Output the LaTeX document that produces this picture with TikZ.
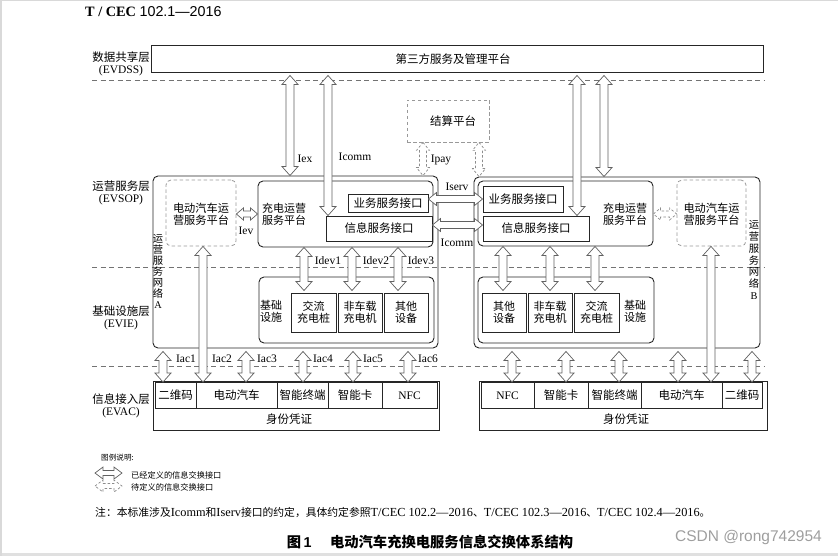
\documentclass[tikz,border=0pt]{standalone}
\usepackage{fontspec}
\setmainfont{Liberation Serif}
\newfontfamily\cjk{Noto Sans CJK SC}
\newfontfamily\sansf{Liberation Sans}
\usetikzlibrary{calc,fit}
\def\dW{8pt}\def\dw{4pt}\def\dh{9pt}
\tikzset{
  box/.style={draw=black!85, line width=0.9pt, inner sep=0pt, align=center,
    font=\cjk\fontsize{11.5}{12.5}\selectfont},
  rbox/.style={box, rounded corners=5pt},
  dbox/.style={draw=black!40, dashed, dash pattern=on 3.5pt off 2.5pt, line width=0.8pt,
    inner sep=0pt, align=center, font=\cjk\fontsize{11.5}{12.5}\selectfont},
  ctxt/.style={inner sep=0pt, font=\cjk\fontsize{11.5}{12.5}\selectfont},
  lay/.style={align=center, inner sep=0pt, font=\fontsize{11.5}{12}\selectfont},
  lbl/.style={inner sep=0pt, font=\fontsize{11.5}{12}\selectfont},
  sepline/.style={draw=black!55, line width=0.7pt, dash pattern=on 5pt off 3.5pt},
  darr/.style={draw=black!62, fill=white, line width=0.7pt,
    to path={
      -- ($(\tikztostart)!\dh!(\tikztotarget)!\dW!90:(\tikztotarget)$)
      -- ($(\tikztostart)!\dh!(\tikztotarget)!\dw!90:(\tikztotarget)$)
      -- ($(\tikztotarget)!\dh!(\tikztostart)!\dw!-90:(\tikztostart)$)
      -- ($(\tikztotarget)!\dh!(\tikztostart)!\dW!-90:(\tikztostart)$)
      -- (\tikztotarget)
      -- ($(\tikztotarget)!\dh!(\tikztostart)!\dW!90:(\tikztostart)$)
      -- ($(\tikztotarget)!\dh!(\tikztostart)!\dw!90:(\tikztostart)$)
      -- ($(\tikztostart)!\dh!(\tikztotarget)!\dw!-90:(\tikztotarget)$)
      -- ($(\tikztostart)!\dh!(\tikztotarget)!\dW!-90:(\tikztotarget)$)
      -- cycle}},
  ddarr/.style={darr, draw=black!45, dash pattern=on 2.5pt off 2pt},
  smallarr/.code={\def\dW{6.5pt}\def\dw{3.5pt}\def\dh{8pt}},
  tinyarr/.code={\def\dW{6pt}\def\dw{3pt}\def\dh{7pt}},
  legarr/.code={\def\dW{6pt}\def\dw{2.5pt}\def\dh{8pt}},
}
\begin{document}
\begin{tikzpicture}[x=1pt,y=-1pt]
\useasboundingbox (0,0) rectangle (838,556);
% frame of the screenshot
\fill[black!12] (0,552.5) rectangle (838,556);
\draw[black!15, line width=1.5pt] (0.75,556) -- (0.75,0.75) -- (838,0.75);

% title
\node[anchor=west, inner sep=0pt, font=\fontsize{14.3}{16}\selectfont] (title) at (85,12)
  {\bfseries T / CEC \sansf\mdseries 102.1—2016};

% layer separators
\coordinate (sl1) at (92,80);  \coordinate (sr1) at (765,80);
\coordinate (sl2) at (92,267); \coordinate (sr2) at (765,267);
\coordinate (sl3) at (92,366); \coordinate (sr3) at (765,366);
\draw[sepline] (sl1) -- (sr1);
\draw[sepline] (sl2) -- (sr2);
\draw[sepline] (sl3) -- (sr3);

% layer labels
\node[lay] (Ldss) at (121,64) {{\cjk 数据共享层}\\(EVDSS)};
\node[lay] (Lsop) at (121,193) {{\cjk 运营服务层}\\(EVSOP)};
\node[lay] (Lie)  at (121,318) {{\cjk 基础设施层}\\(EVIE)};
\node[lay] (Lac)  at (121,406) {{\cjk 信息接入层}\\(EVAC)};

% data sharing layer
\node[box, fit={(151,45) (763,72)}] (dss) {};
\node[ctxt] (dsst) at (453,59) {第三方服务及管理平台};

% settlement platform
\node[dbox, fit={(407,100) (489,142)}] (settle) {};
\node[ctxt] (settlet) at (453,121) {结算平台};

% service network A
\node[rbox, fit={(153,176) (438,348)}] (netA) {};
\node[dbox, rounded corners=5pt, fit={(166,180) (236,246)}] (evA) {};
\node[inner sep=0pt, align=center, font=\cjk\fontsize{11.2}{12}\selectfont] (evAt) at (201,214) {电动汽车运\\营服务平台};
\node[rbox, fit={(258,181) (433,247)}] (cpA) {};
\node[inner sep=0pt, align=left, font=\cjk\fontsize{11}{12}\selectfont] (cpAt) at (284,214) {充电运营\\服务平台};
\node[box, fit={(348,194) (428,212)}] (busA) {};
\node[ctxt] (busAt) at (388,203) {业务服务接口};
\node[box, fit={(326,216) (432,241)}] (infA) {};
\node[ctxt] (infAt) at (379,228.5) {信息服务接口};
\node[inner sep=0pt, align=center, font=\cjk\fontsize{10.3}{11}\selectfont] (vA) at (158,271) {运\\营\\服\\务\\网\\络\\{\rmfamily A}};

\node[rbox, fit={(259,277) (434,343)}] (infraA) {};
\node[inner sep=0pt, align=center, font=\cjk\fontsize{11}{12}\selectfont] (infraAt) at (271,311) {基础\\设施};
\node[box, fit={(291,293) (336,332)}] (acA) {};
\node[inner sep=0pt, align=center, font=\cjk\fontsize{11}{11.5}\selectfont] (acAt) at (313.5,312.5) {交流\\充电桩};
\node[box, fit={(338,293) (382,332)}] (dcA) {};
\node[inner sep=0pt, align=center, font=\cjk\fontsize{11}{11.5}\selectfont] (dcAt) at (360,312.5) {非车载\\充电机};
\node[box, fit={(384,293) (428,332)}] (otA) {};
\node[inner sep=0pt, align=center, font=\cjk\fontsize{11}{11.5}\selectfont] (otAt) at (406,312.5) {其他\\设备};

% service network B
\node[rbox, fit={(474,177) (760,348)}] (netB) {};
\node[rbox, fit={(478,181) (653,246)}] (cpB) {};
\node[inner sep=0pt, align=center, font=\cjk\fontsize{11}{12}\selectfont] (cpBt) at (625,214) {充电运营\\服务平台};
\node[box, fit={(483,186) (563,212)}] (busB) {};
\node[ctxt] (busBt) at (523,199) {业务服务接口};
\node[box, fit={(483,216) (589,241)}] (infB) {};
\node[ctxt] (infBt) at (536,228.5) {信息服务接口};
\node[dbox, rounded corners=5pt, fit={(677,180) (746,246)}] (evB) {};
\node[inner sep=0pt, align=center, font=\cjk\fontsize{11.2}{12}\selectfont] (evBt) at (711.5,214) {电动汽车运\\营服务平台};
\node[inner sep=0pt, align=center, font=\cjk\fontsize{10.3}{11.8}\selectfont] (vB) at (754,260) {运\\营\\服\\务\\网\\络\\{\rmfamily B}};

\node[rbox, fit={(478,277) (654,343)}] (infraB) {};
\node[box, fit={(482,293) (526,332)}] (otB) {};
\node[inner sep=0pt, align=center, font=\cjk\fontsize{11}{11.5}\selectfont] (otBt) at (504,312.5) {其他\\设备};
\node[box, fit={(528,293) (572,332)}] (dcB) {};
\node[inner sep=0pt, align=center, font=\cjk\fontsize{11}{11.5}\selectfont] (dcBt) at (550,312.5) {非车载\\充电机};
\node[box, fit={(574,293) (619,332)}] (acB) {};
\node[inner sep=0pt, align=center, font=\cjk\fontsize{11}{11.5}\selectfont] (acBt) at (596.5,312.5) {交流\\充电桩};
\node[inner sep=0pt, align=center, font=\cjk\fontsize{11}{12}\selectfont] (infraBt) at (635,311) {基础\\设施};

% access layer A
\node[box, line width=0.8pt, fit={(153,381) (439,430)}] (accA) {};
\node[box, fit={(155,382.5) (196,408)}] (qrA) {};
\node[box, fit={(196,382.5) (277,408)}] (evcA) {};
\node[box, fit={(277,382.5) (328,408)}] (tmA) {};
\node[box, fit={(328,382.5) (382,408)}] (cardA) {};
\node[box, fit={(382,382.5) (437,408)}] (nfcA) {};
\node[ctxt] (qrAt) at (175.5,395.5) {二维码};
\node[ctxt] (evcAt) at (236.5,395.5) {电动汽车};
\node[ctxt] (tmAt) at (302.5,395.5) {智能终端};
\node[ctxt] (cardAt) at (355,395.5) {智能卡};
\node[lbl] (nfcAt) at (409.5,395.5) {NFC};
\node[ctxt] (idA) at (289,419) {身份凭证};

% access layer B
\node[box, line width=0.8pt, fit={(479,381) (767,430)}] (accB) {};
\node[box, fit={(481,382.5) (534,408)}] (nfcB) {};
\node[box, fit={(534,382.5) (588,408)}] (cardB) {};
\node[box, fit={(588,382.5) (641,408)}] (tmB) {};
\node[box, fit={(641,382.5) (722,408)}] (evcB) {};
\node[box, fit={(722,382.5) (762,408)}] (qrB) {};
\node[lbl] (nfcBt) at (507.5,395.5) {NFC};
\node[ctxt] (cardBt) at (561,395.5) {智能卡};
\node[ctxt] (tmBt) at (614.5,395.5) {智能终端};
\node[ctxt] (evcBt) at (681.5,395.5) {电动汽车};
\node[ctxt] (qrBt) at (742,395.5) {二维码};
\node[ctxt] (idB) at (626,419) {身份凭证};

% ---- arrows ----
% data sharing <-> service
\draw[darr] ($(dss.south -| 290,0)+(0,3)$) to (netA.north -| 290,0);
\draw[darr] ($(dss.south -| 328,0)+(0,3)$) to (infA.north -| 328,0);
\draw[darr] ($(dss.south -| 577,0)+(0,3)$) to (infB.north -| 577,0);
\draw[darr] ($(dss.south -| 604,0)+(0,3)$) to (netB.north -| 604,0);
\node[lbl] (lIex) at (305,159) {Iex};
\node[lbl] (lIcommA) at (355,157) {Icomm};

% settlement
\draw[ddarr, smallarr] (settle.south -| 423,0) to (netA.north -| 423,0);
\draw[ddarr, smallarr] (settle.south -| 479,0) to (netB.north -| 479,0);
\node[lbl] (lIpay) at (441,160) {Ipay};

% Iserv / Icomm between networks
\draw[darr, smallarr] (busA.east |- 0,199) to (busB.west |- 0,199);
\draw[darr, smallarr] (infA.east |- 0,225) to (infB.west |- 0,225);
\node[lbl] (lIserv) at (457,187) {Iserv};
\node[lbl] (lIcommM) at (457,243) {Icomm};

% Iev
\draw[darr, tinyarr] (evA.east |- 0,214) to (cpA.west |- 0,214);
\node[lbl] (lIev) at (246,231) {Iev};
\draw[ddarr, tinyarr] (cpB.east |- 0,214) to (evB.west |- 0,214);

% Idev
\draw[darr] (cpA.south -| 304,0) to ($(acA.north -| 304,0)+(0,-2)$);
\draw[darr] (cpA.south -| 352,0) to ($(dcA.north -| 352,0)+(0,-2)$);
\draw[darr] (cpA.south -| 398,0) to ($(otA.north -| 398,0)+(0,-2)$);
\node[lbl] (lIdev1) at (328,261) {Idev1};
\node[lbl] (lIdev2) at (376,261) {Idev2};
\node[lbl] (lIdev3) at (421,261) {Idev3};
\draw[darr] (cpB.south -| 503,0) to ($(otB.north -| 503,0)+(0,-2)$);
\draw[darr] (cpB.south -| 550,0) to ($(dcB.north -| 550,0)+(0,-2)$);
\draw[darr] (cpB.south -| 595,0) to ($(acB.north -| 595,0)+(0,-2)$);

% Iac
\draw[darr] ($(netA.south -| 163,0)+(0,3)$) to (qrA.north -| 163,0);
\draw[darr] (evA.south -| 203,0) to (evcA.north -| 203,0);
\draw[darr] ($(netA.south -| 246,0)+(0,3)$) to (evcA.north -| 246,0);
\draw[darr] ($(netA.south -| 303,0)+(0,3)$) to (tmA.north -| 303,0);
\draw[darr] ($(netA.south -| 353,0)+(0,3)$) to (cardA.north -| 353,0);
\draw[darr] ($(netA.south -| 408,0)+(0,3)$) to (nfcA.north -| 408,0);
\node[lbl] (lIac1) at (186,359) {Iac1};
\node[lbl] (lIac2) at (222,359) {Iac2};
\node[lbl] (lIac3) at (267,359) {Iac3};
\node[lbl] (lIac4) at (323,359) {Iac4};
\node[lbl] (lIac5) at (373,359) {Iac5};
\node[lbl] (lIac6) at (428,359) {Iac6};
\draw[darr] ($(netB.south -| 512,0)+(0,3)$) to (nfcB.north -| 512,0);
\draw[darr] ($(netB.south -| 566,0)+(0,3)$) to (cardB.north -| 566,0);
\draw[darr] ($(netB.south -| 619,0)+(0,3)$) to (tmB.north -| 619,0);
\draw[darr] ($(netB.south -| 678,0)+(0,3)$) to (evcB.north -| 678,0);
\draw[darr] (evB.south -| 711,0) to (evcB.north -| 711,0);
\draw[darr] ($(netB.south -| 752,0)+(0,3)$) to (qrB.north -| 752,0);

% legend
\node[anchor=west, inner sep=0pt, font=\cjk\fontsize{7.6}{8}\selectfont] (legt) at (101,458) {图例说明:};
\coordinate (la1) at (95,473); \coordinate (lb1) at (122,473);
\coordinate (la2) at (95,486); \coordinate (lb2) at (122,486);
\draw[darr, legarr] (la1) to (lb1);
\draw[ddarr, legarr] (la2) to (lb2);
\node[anchor=west, inner sep=0pt, font=\cjk\fontsize{8.2}{9}\selectfont] (leg1) at (131,475) {已经定义的信息交换接口};
\node[anchor=west, inner sep=0pt, font=\cjk\fontsize{8.2}{9}\selectfont] (leg2) at (131,487) {待定义的信息交换接口};

% note
\node[anchor=west, inner sep=0pt, font=\fontsize{12.3}{13}\selectfont] (note) at (95,513)
 {{\cjk\fontsize{10.8}{13}\selectfont 注：本标准涉及}Icomm{\cjk\fontsize{10.8}{13}\selectfont 和}Iserv{\cjk\fontsize{10.8}{13}\selectfont 接口的约定，具体约定参照}T/CEC 102.2—2016{\cjk\fontsize{10.8}{13}\selectfont 、}T/CEC 102.3—2016{\cjk\fontsize{10.8}{13}\selectfont 、}T/CEC 102.4—2016{\cjk\fontsize{10.8}{13}\selectfont 。}};

% caption
\node[inner sep=0pt, font=\cjk\bfseries\fontsize{14.3}{16}\selectfont] (cap) at (430,542)
 {图\,{\sansf 1}\hspace{1.3em}电动汽车充换电服务信息交换体系结构};

% watermark
\node[anchor=east, inner sep=0pt, text=black!38, font=\sansf\fontsize{15.5}{17}\selectfont] (wm) at (822,537) {CSDN @rong742954};
\end{tikzpicture}
\end{document}
